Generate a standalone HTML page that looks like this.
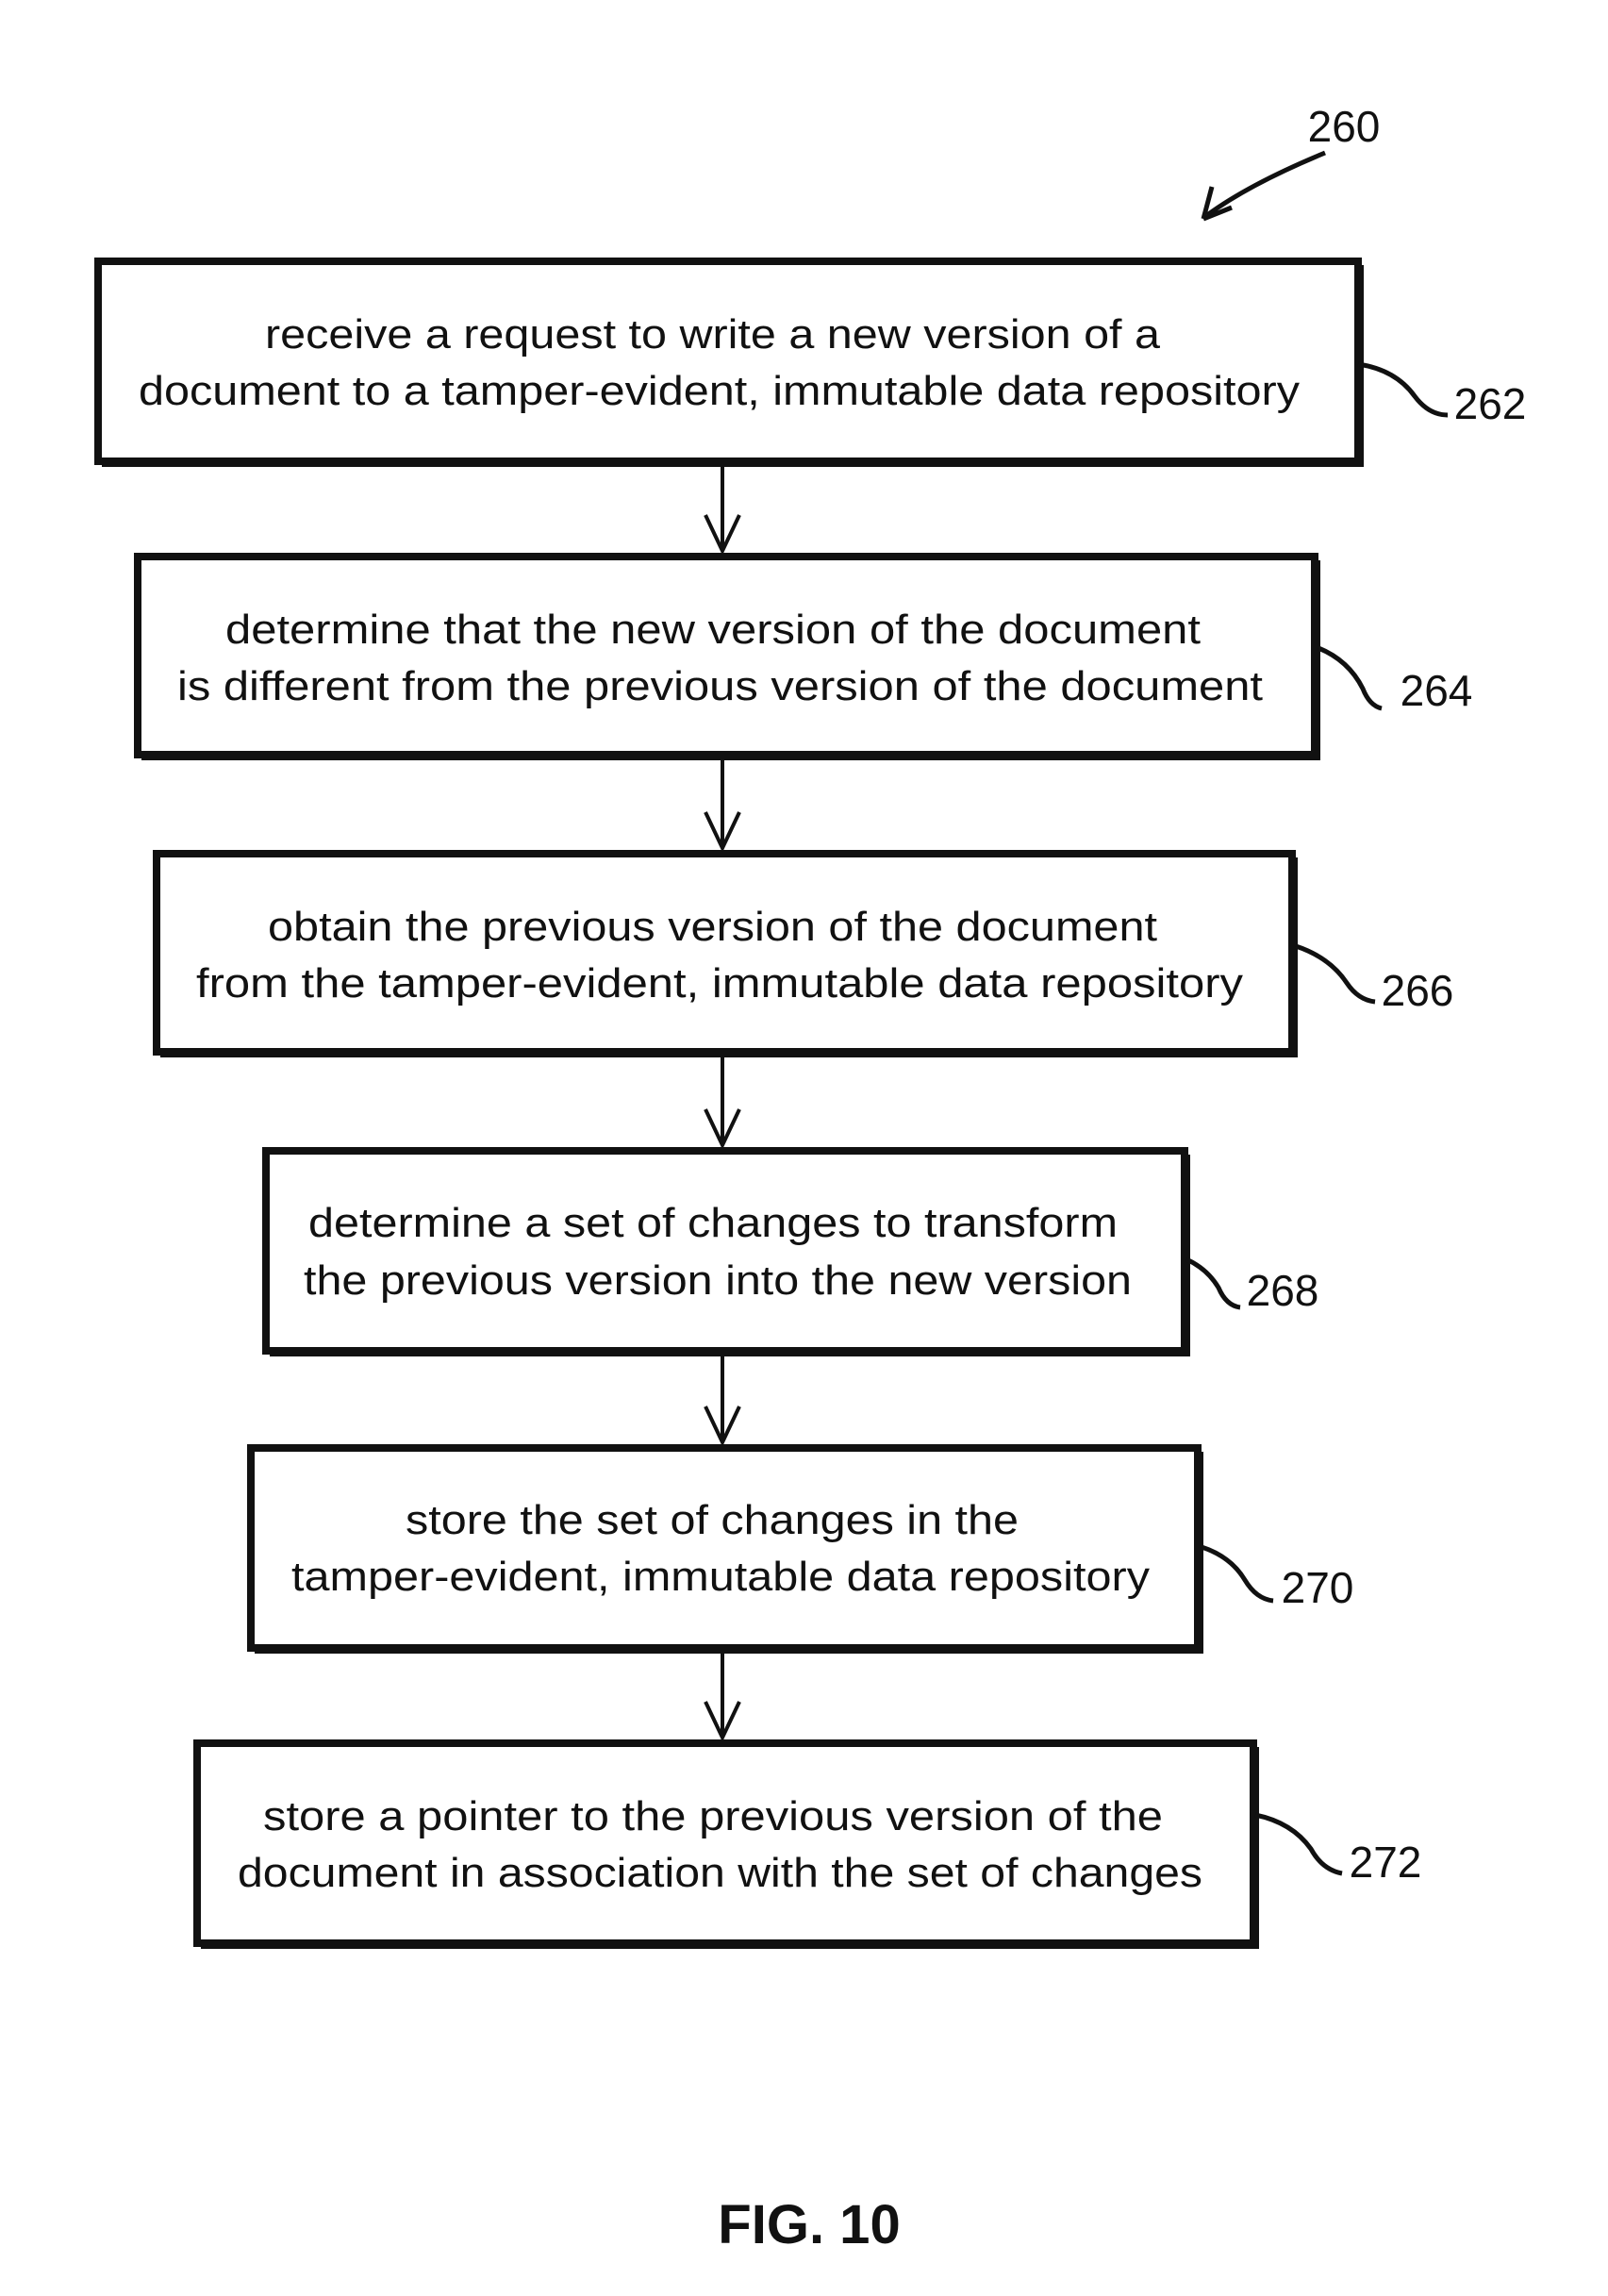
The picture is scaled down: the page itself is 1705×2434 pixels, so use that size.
<!DOCTYPE html>
<html><head><meta charset="utf-8"><style>
html,body{margin:0;padding:0;background:#fff;}
svg{display:block;}
text{font-family:"Liberation Sans",sans-serif;fill:#111;}
</style></head><body>
<svg width="1705" height="2434" viewBox="0 0 1705 2434" xmlns="http://www.w3.org/2000/svg">
<g fill="none" stroke="#111" stroke-width="8">
<rect x="104" y="277" width="1336" height="212"/>
<rect x="146" y="590" width="1248" height="210"/>
<rect x="166" y="905" width="1204" height="210"/>
<rect x="282" y="1220" width="974" height="212"/>
<rect x="266" y="1535" width="1004" height="212"/>
<rect x="209" y="1848" width="1120" height="212"/>
</g>
<g fill="none" stroke="#111" stroke-width="4">
<path d="M108 493 H1444 V281"/>
<path d="M150 804 H1398 V594"/>
<path d="M170 1119 H1374 V909"/>
<path d="M286 1436 H1260 V1224"/>
<path d="M270 1751 H1274 V1539"/>
<path d="M213 2064 H1333 V1852"/>
</g>
<g fill="none" stroke="#111" stroke-width="4">
<path d="M766 493 V584 M748 546 L766 584 L784 546"/>
<path d="M766 806 V899 M748 861 L766 899 L784 861"/>
<path d="M766 1119 V1214 M748 1176 L766 1214 L784 1176"/>
<path d="M766 1436 V1529 M748 1491 L766 1529 L784 1491"/>
<path d="M766 1751 V1842 M748 1804 L766 1842 L784 1804"/>
</g>
<g fill="none" stroke="#111" stroke-width="5">
<path d="M1405 162 Q1325 195 1280 228"/>
<path d="M1276 232 L1285 198 M1276 232 L1306 220"/>
<path d="M1440 386 Q1480 392 1500 420 Q1515 440 1535 440"/>
<path d="M1398 687 Q1430 700 1445 730 Q1452 748 1465 751"/>
<path d="M1374 1003 Q1410 1015 1428 1042 Q1440 1060 1458 1062"/>
<path d="M1258 1335 Q1280 1345 1292 1365 Q1300 1384 1315 1386"/>
<path d="M1274 1640 Q1305 1650 1320 1675 Q1332 1695 1350 1697"/>
<path d="M1331 1924 Q1370 1932 1390 1960 Q1402 1982 1423 1986"/>
</g>
<g font-size="44" text-anchor="start">
<text x="281" y="369" textLength="949" lengthAdjust="spacingAndGlyphs">receive a request to write a new version of a</text>
<text x="147" y="429" textLength="1231" lengthAdjust="spacingAndGlyphs">document to a tamper-evident, immutable data repository</text>
<text x="239" y="682" textLength="1034" lengthAdjust="spacingAndGlyphs">determine that the new version of the document</text>
<text x="188" y="742" textLength="1151" lengthAdjust="spacingAndGlyphs">is different from the previous version of the document</text>
<text x="284" y="997" textLength="943" lengthAdjust="spacingAndGlyphs">obtain the previous version of the document</text>
<text x="208" y="1057" textLength="1110" lengthAdjust="spacingAndGlyphs">from the tamper-evident, immutable data repository</text>
<text x="327" y="1311" textLength="858" lengthAdjust="spacingAndGlyphs">determine a set of changes to transform</text>
<text x="322" y="1372" textLength="878" lengthAdjust="spacingAndGlyphs">the previous version into the new version</text>
<text x="430" y="1626" textLength="650" lengthAdjust="spacingAndGlyphs">store the set of changes in the</text>
<text x="309" y="1686" textLength="910" lengthAdjust="spacingAndGlyphs">tamper-evident, immutable data repository</text>
<text x="279" y="1940" textLength="954" lengthAdjust="spacingAndGlyphs">store a pointer to the previous version of the</text>
<text x="252" y="2000" textLength="1023" lengthAdjust="spacingAndGlyphs">document in association with the set of changes</text>
</g>
<g font-size="46" text-anchor="middle">
<text x="1425" y="150">260</text>
<text x="1580" y="444">262</text>
<text x="1523" y="748">264</text>
<text x="1503" y="1066">266</text>
<text x="1360" y="1384">268</text>
<text x="1397" y="1699">270</text>
<text x="1469" y="1990">272</text>
</g>
<text x="858" y="2378" font-size="58" font-weight="bold" text-anchor="middle">FIG. 10</text>
</svg>
</body></html>
